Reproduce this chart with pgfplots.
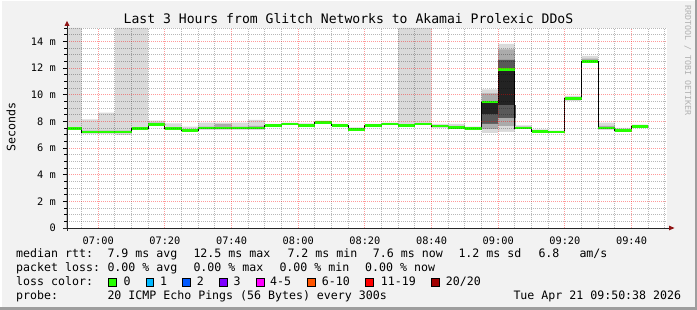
\documentclass[border=0pt]{standalone}
\usepackage{pgfplots}
\pgfplotsset{compat=1.18}
\usepackage{pgfplotstable}
\usepackage{fontspec}
\setmainfont{DejaVu Sans Mono}
\definecolor{canvas}{HTML}{F2F2F2}
\definecolor{smokeA}{HTML}{DADADA}
\definecolor{smokeB}{HTML}{ABABAB}
\definecolor{smokeC}{HTML}{595959}
\definecolor{smokeD}{HTML}{232323}
\definecolor{medgreen}{HTML}{26FF00}
\definecolor{arrowred}{HTML}{8F1414}
\definecolor{lc1}{HTML}{00B8FF}
\definecolor{lc2}{HTML}{0059FF}
\definecolor{lc3}{HTML}{7E00FF}
\definecolor{lc4}{HTML}{FF00FF}
\definecolor{lc6}{HTML}{FF5500}
\definecolor{lc11}{HTML}{FF0000}
\definecolor{lc20}{HTML}{A10000}
\pgfplotstableread{
t lo hi mlo mhi dlo dhi blo bhi med
50.633 7.30 15 7.38 7.55 7.45 7.45 7.45 7.45 7.45
55 7.05 8.15 7.12 7.30 7.2 7.2 7.2 7.2 7.2
60 7.05 8.65 7.12 7.30 7.2 7.2 7.2 7.2 7.2
65 6.95 15 7.10 7.30 7.2 7.2 7.2 7.2 7.2
70 7.30 15 7.38 7.55 7.45 7.45 7.45 7.45 7.45
75 7.60 8.05 7.68 7.90 7.75 7.75 7.75 7.75 7.75
80 7.30 7.85 7.38 7.55 7.45 7.45 7.45 7.45 7.45
85 7.20 7.60 7.25 7.40 7.3 7.3 7.3 7.3 7.3
90 7.30 7.90 7.42 7.60 7.5 7.5 7.5 7.5 7.5
95 7.30 7.90 7.42 7.80 7.5 7.5 7.5 7.5 7.5
100 7.35 7.90 7.42 7.60 7.5 7.5 7.5 7.5 7.5
105 7.30 8.10 7.42 7.65 7.5 7.5 7.5 7.5 7.5
110 7.55 7.80 7.62 7.75 7.7 7.7 7.7 7.7 7.7
115 7.70 7.90 7.75 7.85 7.8 7.8 7.8 7.8 7.8
120 7.60 7.85 7.65 7.78 7.7 7.7 7.7 7.7 7.7
125 7.75 8.05 7.82 7.98 7.9 7.9 7.9 7.9 7.9
130 7.55 7.80 7.62 7.75 7.7 7.7 7.7 7.7 7.7
135 7.30 7.55 7.35 7.48 7.4 7.4 7.4 7.4 7.4
140 7.60 7.80 7.65 7.75 7.7 7.7 7.7 7.7 7.7
145 7.70 7.90 7.75 7.85 7.8 7.8 7.8 7.8 7.8
150 7.60 15 7.65 7.78 7.7 7.7 7.7 7.7 7.7
155 7.70 15 7.75 7.85 7.8 7.8 7.8 7.8 7.8
160 7.45 7.80 7.55 7.72 7.65 7.65 7.65 7.65 7.65
165 7.40 7.80 7.48 7.65 7.55 7.55 7.55 7.55 7.55
170 7.35 7.60 7.38 7.52 7.45 7.45 7.45 7.45 7.45
175 7.10 10.40 7.40 10.10 7.80 9.45 8.50 9.45 9.45
180 7.20 13.80 7.60 13.40 8.20 12.60 9.20 11.90 11.9
185 7.40 7.70 7.45 7.60 7.5 7.5 7.5 7.5 7.5
190 7.15 7.40 7.20 7.30 7.25 7.25 7.25 7.25 7.25
195 7.10 7.30 7.15 7.25 7.2 7.2 7.2 7.2 7.2
200 9.50 9.90 9.60 9.80 9.7 9.7 9.7 9.7 9.7
205 12.35 12.90 12.45 12.70 12.5 12.5 12.5 12.5 12.5
210 7.30 7.90 7.40 7.65 7.5 7.5 7.5 7.5 7.5
215 7.20 7.50 7.25 7.38 7.3 7.3 7.3 7.3 7.3
220 7.45 7.75 7.55 7.70 7.62 7.62 7.62 7.62 7.62
225 7.45 7.75 7.55 7.70 7.62 7.62 7.62 7.62 7.62
}\smoke
\newcommand{\lgd}{\fontsize{11.6}{13}\selectfont}
\begin{document}
\begin{tikzpicture}[x=1pt,y=1pt]
\fill[canvas] (0,0) rectangle (697,310);
\fill[white] (0,0) rectangle (1.5,310);
\fill[white] (0,308.5) rectangle (697,310);
\fill[black!38] (694.5,0) rectangle (697,310);
\fill[black!38] (0,0) rectangle (697,2.5);
\begin{axis}[
  at={(67pt,82pt)}, anchor=south west,
  scale only axis, width=600pt, height=200pt,
  xmin=50.633, xmax=230.633, ymin=0, ymax=15,
  axis on top,
  axis lines*=left, axis line style={draw=none},
  axis background/.style={fill=white},
  xtick={60,80,...,220},
  xticklabels={07:00,07:20,07:40,08:00,08:20,08:40,09:00,09:20,09:40},
  minor xtick={55,65,70,75,85,90,95,105,110,115,125,130,135,145,150,155,165,170,175,185,190,195,205,210,215,225,230},
  ytick={0,2,...,14},
  yticklabels={0,2 m,4 m,6 m,8 m,10 m,12 m,14 m},
  minor ytick={0.5,1,1.5,2.5,3,3.5,4.5,5,5.5,6.5,7,7.5,8.5,9,9.5,10.5,11,11.5,12.5,13,13.5,14.5,15},
  grid=both,
  major grid style={draw=red, opacity=0.4, line width=0.8pt, dash pattern=on 1pt off 1pt},
  minor grid style={draw=black, opacity=0.28, line width=0.8pt, dash pattern=on 1pt off 1pt},
  tick align=outside,
  xtick style={draw=none},
  ytick style={draw=black, line width=0.8pt},
  major tick length=4pt, minor tick length=2.5pt,
  tick label style={font=\fontsize{10.3}{12}\selectfont},
  xticklabel style={anchor=base, inner sep=0pt, yshift=-13pt},
  yticklabel style={anchor=east, inner sep=0pt, xshift=-7pt},
  clip=true,
]
% smoke bands, painted from the outside in
\addplot[fill=smokeA, draw=none, const plot] table[x=t,y=hi]{\smoke} \closedcycle;
\addplot[fill=smokeB, draw=none, const plot] table[x=t,y=mhi]{\smoke} \closedcycle;
\addplot[fill=smokeC, draw=none, const plot] table[x=t,y=dhi]{\smoke} \closedcycle;
\addplot[fill=smokeD, draw=none, const plot] table[x=t,y=bhi]{\smoke} \closedcycle;
\addplot[fill=smokeC, draw=smokeC, line width=0.5pt, const plot] table[x=t,y=blo]{\smoke} \closedcycle;
\addplot[fill=smokeB, draw=smokeB, line width=0.5pt, const plot] table[x=t,y=dlo]{\smoke} \closedcycle;
\addplot[fill=smokeA, draw=smokeA, line width=0.5pt, const plot] table[x=t,y=mlo]{\smoke} \closedcycle;
\addplot[fill=white, draw=white, line width=0.6pt, const plot] table[x=t,y=lo]{\smoke} \closedcycle;
\addplot[const plot, black, line width=0.9pt] table[x=t,y=med]{\smoke};
\addplot[jump mark left, medgreen, line width=2.6pt] table[x=t,y=med]{\smoke};
\end{axis}
% axis lines and arrows
\draw[black!85, line width=0.9pt] (63,82) -- (670,82);
\draw[black!85, line width=0.9pt] (67,79) -- (67,285);
\fill[arrowred] (669,79.6) -- (674.5,82) -- (669,84.4) -- cycle;
\fill[arrowred] (64.5,284) -- (67,289) -- (69.5,284) -- cycle;
% title
\node[anchor=base, inner sep=0pt, font=\fontsize{13.1}{15}\selectfont] at (348.5,286) {Last 3 Hours from Glitch Networks to Akamai Prolexic DDoS};
% y label
\node[rotate=90, inner sep=0pt, font=\lgd] at (11,183) {Seconds};
% watermark
\node[rotate=-90, anchor=base west, inner sep=0pt, text=black!30, font=\fontsize{8.3}{10}\selectfont] at (685,305) {RRDTOOL / TOBI OETIKER};
% legend
\begin{scope}[every node/.style={anchor=base west, inner sep=0pt, font=\lgd}]
\node at (16,52.3) {median rtt:};
\node at (107.3,52.3) {7.9 ms avg};
\node at (193.3,52.3) {12.5 ms max};
\node at (287.3,52.3) {7.2 ms min};
\node at (372.7,52.3) {7.6 ms now};
\node at (458.3,52.3) {1.2 ms sd};
\node at (538.3,52.3) {6.8};
\node at (579.3,52.3) {am/s};
\node at (16,38.3) {packet loss:};
\node at (107.3,38.3) {0.00 \% avg};
\node at (193.3,38.3) {0.00 \% max};
\node at (279.3,38.3) {0.00 \% min};
\node at (365,38.3) {0.00 \% now};
\node at (16,24.3) {loss color:};
\node at (123.3,24.3) {0};
\node at (160,24.3) {1};
\node at (196.7,24.3) {2};
\node at (233.3,24.3) {3};
\node at (270,24.3) {4-5};
\node at (321.7,24.3) {6-10};
\node at (380.7,24.3) {11-19};
\node at (445.7,24.3) {20/20};
\node at (16,10.5) {probe:};
\node at (107.3,10.5) {20 ICMP Echo Pings (56 Bytes) every 300s};
\node at (513.3,10.5) {Tue Apr 21 09:50:38 2026};
\end{scope}
\begin{scope}[draw=black, line width=0.8pt]
\filldraw[fill=medgreen] (108.6,23.6) rectangle (116.4,31.4);
\filldraw[fill=lc1] (146,23.6) rectangle (153.8,31.4);
\filldraw[fill=lc2] (182.6,23.6) rectangle (190.4,31.4);
\filldraw[fill=lc3] (219.3,23.6) rectangle (227.1,31.4);
\filldraw[fill=lc4] (256.3,23.6) rectangle (264.1,31.4);
\filldraw[fill=lc6] (307.6,23.6) rectangle (315.4,31.4);
\filldraw[fill=lc11] (365.3,23.6) rectangle (373.1,31.4);
\filldraw[fill=lc20] (431.3,23.6) rectangle (439.1,31.4);
\end{scope}
\useasboundingbox (0,0) rectangle (697,310);
\end{tikzpicture}
\end{document}
